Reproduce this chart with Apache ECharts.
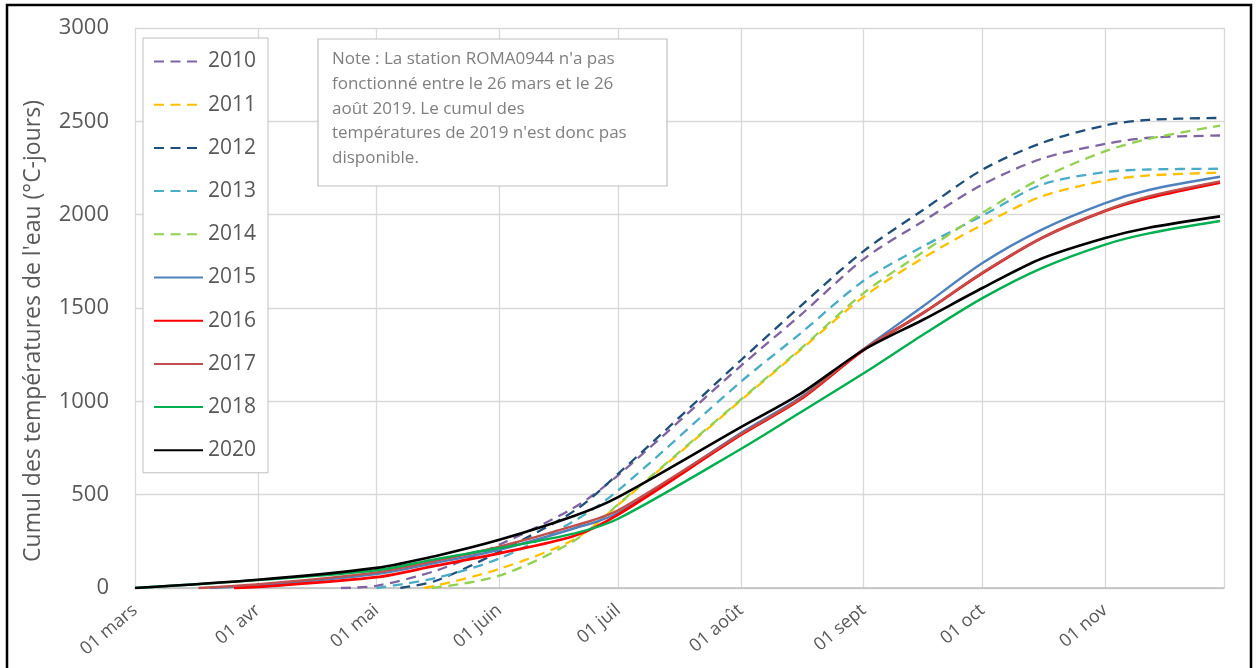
<!DOCTYPE html>
<html>
<head>
<meta charset="utf-8">
<script src="https://cdn.jsdelivr.net/npm/echarts@6/dist/echarts.min.js"></script>
<style>
html,body{margin:0;padding:0;background:#fff;}
#chart{width:1257px;height:668px;}
</style>
</head>
<body>
<div id="chart"></div>
<script>
// ---- DATA ----
// x positions are days since 1 March (0 = 01 mars, 275 = 01 déc)
const monthLabels = ['01 mars','01 avr','01 mai','01 juin','01 juil','01 août','01 sept','01 oct','01 nov'];
const monthStartDays = [0, 31, 61, 92, 122, 153, 184, 214, 245, 275];
const lastDay = 275;
const yTicks = [0, 500, 1000, 1500, 2000, 2500, 3000];

const years = ['2010','2011','2012','2013','2014','2015','2016','2017','2018','2020'];

const s2010 = [[52,0],[61,12],[76,93],[92,232],[111,432],[122,604],[153,1190],[168,1461],[184,1762],[199,1965],[214,2161],[229,2300],[245,2379],[256,2412],[274,2424]];
const s2011 = [[73,0],[76,12],[92,102],[111,262],[122,445],[153,1005],[168,1274],[184,1560],[199,1768],[214,1946],[229,2098],[245,2182],[256,2210],[274,2225]];
const s2012 = [[67,0],[76,39],[92,195],[111,414],[122,612],[153,1220],[168,1509],[184,1805],[199,2025],[214,2241],[229,2384],[245,2478],[256,2508],[274,2518]];
const s2013 = [[61,0],[76,54],[92,158],[111,360],[122,523],[153,1105],[168,1363],[184,1646],[199,1830],[214,1995],[229,2161],[245,2228],[256,2242],[274,2246]];
const s2014 = [[75,0],[92,66],[111,255],[122,448],[153,1010],[168,1280],[184,1580],[199,1800],[214,2010],[229,2196],[245,2340],[256,2406],[274,2477]];
const s2015 = [[19,0],[31,14],[61,75],[76,135],[92,205],[111,320],[122,402],[153,830],[168,1020],[184,1280],[199,1509],[214,1741],[229,1920],[245,2062],[256,2132],[274,2203]];
const s2016 = [[25,0],[31,6],[61,58],[76,120],[92,186],[111,280],[122,393],[153,820],[168,1010],[184,1275],[199,1473],[214,1687],[229,1875],[245,2020],[256,2090],[274,2172]];
const s2017 = [[16,0],[31,20],[61,84],[76,146],[92,221],[111,334],[122,416],[153,825],[168,1015],[184,1278],[199,1473],[214,1690],[229,1875],[245,2022],[256,2098],[274,2178]];
const s2018 = [[0,0],[31,42],[61,95],[76,155],[92,214],[111,293],[122,371],[153,745],[168,940],[184,1150],[199,1357],[214,1553],[229,1714],[245,1840],[256,1900],[274,1966]];
const s2020 = [[0,0],[31,44],[61,108],[76,172],[92,258],[111,387],[122,487],[153,862],[168,1040],[184,1275],[199,1437],[214,1607],[229,1765],[245,1875],[256,1930],[274,1991]];

const seriesValues = [s2010, s2011, s2012, s2013, s2014, s2015, s2016, s2017, s2018, s2020];

const noteText = "Note : La station ROMA0944 n'a pas\nfonctionné entre le 26 mars et le 26\naoût 2019. Le cumul des\ntempératures de 2019 n'est donc pas\ndisponible.";
const yTitle = "Cumul des températures de l'eau (°C-jours)";

// ---- STYLES ----
const colors = ['#8064a2','#ffc000','#1f4e79','#4bacc6','#92d050','#4f81bd','#ff0000','#c0504d','#00b050','#000000'];
const dashed = [true,true,true,true,true,false,false,false,false,false];
const widths = [2.3,2.3,2.3,2.3,2.3,2.4,2.8,2.4,2.4,2.6];
const FONT = '"Open Sans", "Noto Sans", sans-serif';

const dayCats = [];
for (let d = 0; d <= lastDay; d++) dayCats.push('d' + d);
const labelMap = {};
monthLabels.forEach((l, i) => { labelMap[monthStartDays[i]] = l; });

const chart = echarts.init(document.getElementById('chart'), null, {renderer: 'canvas'});

const series = years.map((y, i) => ({
  name: y,
  type: 'line',
  data: seriesValues[i],
  symbol: 'none',
  smooth: 0.3,
  lineStyle: {
    color: colors[i],
    width: widths[i],
    type: dashed[i] ? [10, 6.5] : 'solid'
  },
  itemStyle: {color: colors[i]},
  z: 2 + i
}));

chart.setOption({
  animation: false,
  backgroundColor: '#ffffff',
  grid: {left: 135, right: 33, top: 28, bottom: 80, containLabel: false},
  xAxis: {
    type: 'category',
    data: dayCats,
    boundaryGap: false,
    axisLine: {show: true, lineStyle: {color: '#bfbfbf', width: 1.5}},
    axisTick: {show: false},
    axisLabel: {
      interval: (idx) => labelMap[idx] !== undefined,
      formatter: (v, idx) => labelMap[idx] || '',
      rotate: 40,
      margin: 20,
      fontSize: 18,
      color: '#595959',
      fontFamily: FONT
    },
    splitLine: {
      show: true,
      interval: (idx) => monthStartDays.indexOf(idx) >= 0,
      lineStyle: {color: '#d9d9d9', width: 1.3}
    }
  },
  yAxis: {
    type: 'value',
    min: yTicks[0],
    max: yTicks[yTicks.length - 1],
    interval: yTicks[1] - yTicks[0],
    axisLine: {show: false},
    axisTick: {show: false},
    axisLabel: {fontSize: 22, color: '#595959', margin: 26, fontFamily: FONT, formatter: (v) => String(v)},
    splitLine: {show: true, lineStyle: {color: '#d9d9d9', width: 1.3}}
  },
  legend: {
    orient: 'vertical',
    left: 143,
    top: 38,
    data: years,
    itemWidth: 49,
    itemHeight: 22,
    itemGap: 22.2,
    padding: [13, 12, 12, 10],
    borderColor: '#bfbfbf',
    borderWidth: 1,
    backgroundColor: '#ffffff',
    itemStyle: {color: 'rgba(0,0,0,0)', borderColor: 'rgba(0,0,0,0)', borderWidth: 0, opacity: 0},
    textStyle: {fontSize: 21, color: '#595959', fontFamily: FONT},
    z: 20
  },
  graphic: [
    {
      type: 'text',
      rotation: Math.PI / 2,
      x: 33, y: 331,
      style: {
        text: yTitle,
        fontSize: 23,
        fill: '#595959',
        fontFamily: FONT,
        align: 'center',
        verticalAlign: 'middle'
      },
      z: 30
    },
    {
      type: 'rect',
      shape: {x: 318, y: 39, width: 349, height: 147},
      style: {fill: '#ffffff', stroke: '#bfbfbf', lineWidth: 1.2},
      z: 30
    },
    {
      type: 'text',
      x: 332, y: 47,
      style: {
        text: noteText,
        fontSize: 17,
        lineHeight: 24.7,
        fill: '#7f7f7f',
        fontFamily: FONT,
        align: 'left',
        verticalAlign: 'top'
      },
      z: 31
    },
    {
      type: 'rect',
      shape: {x: 7, y: 5, width: 1244, height: 700},
      style: {fill: 'none', stroke: '#000000', lineWidth: 2.5},
      z: 40
    }
  ],
  series: series
});
</script>
</body>
</html>
